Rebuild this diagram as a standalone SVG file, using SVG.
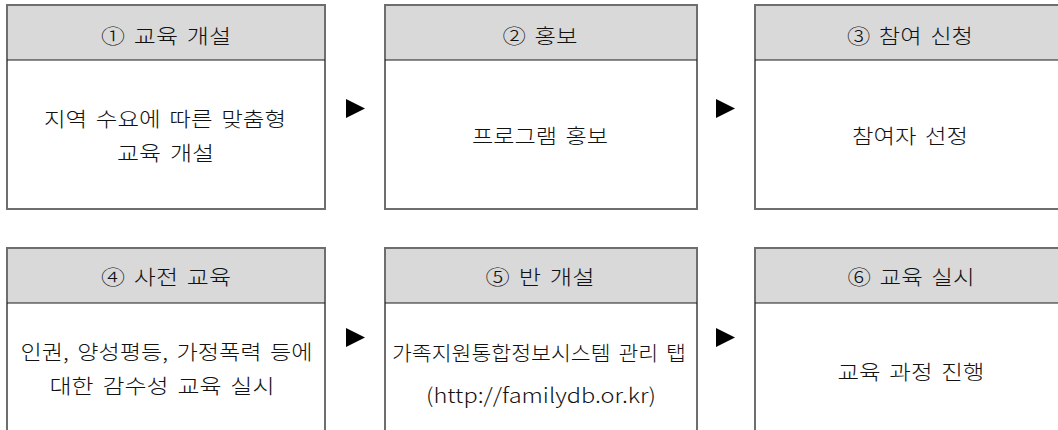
<svg xmlns="http://www.w3.org/2000/svg" width="1058" height="430" viewBox="0 0 1058 430">
  <defs>
    <style>
      .frame { fill: #ffffff; stroke: #6e6e6e; stroke-width: 2; }
      .head { fill: #d9d9d9; stroke: none; }
      .sep { stroke: #1a1a1a; stroke-width: 1.2; }
      .t { font-family: "Noto Sans CJK KR", "Noto Sans", sans-serif; font-size: 20.5px; font-weight: 300; fill: #111; text-anchor: middle; dominant-baseline: central; word-spacing: 3px; }
      .arrow { fill: #000; }
    </style>
  </defs>
  <rect x="0" y="0" width="1058" height="430" fill="#ffffff"/>

  <g id="node1">
    <rect class="frame" x="7" y="5" width="318" height="204"/>
    <rect class="head" x="8" y="6" width="316" height="54"/>
    <line class="sep" x1="7" y1="60" x2="325" y2="60"/>
    <text class="t" x="166" y="35" textLength="130" lengthAdjust="spacingAndGlyphs">① 교육 개설</text>
    <text class="t" x="165" y="117.5" textLength="242" lengthAdjust="spacingAndGlyphs">지역 수요에 따른 맞춤형</text>
    <text class="t" x="165.5" y="152" textLength="97" lengthAdjust="spacingAndGlyphs">교육 개설</text>
  </g>

  <g id="node2">
    <rect class="frame" x="385" y="5" width="312" height="204"/>
    <rect class="head" x="386" y="6" width="310" height="54"/>
    <line class="sep" x1="385" y1="60" x2="697" y2="60"/>
    <text class="t" x="540" y="35" textLength="75" lengthAdjust="spacingAndGlyphs">② 홍보</text>
    <text class="t" x="540" y="135" textLength="136" lengthAdjust="spacingAndGlyphs">프로그램 홍보</text>
  </g>

  <g id="node3">
    <rect class="frame" x="755" y="5" width="311" height="204"/>
    <rect class="head" x="756" y="6" width="309" height="54"/>
    <line class="sep" x1="755" y1="60" x2="1066" y2="60"/>
    <text class="t" x="910" y="35" textLength="126" lengthAdjust="spacingAndGlyphs">③ 참여 신청</text>
    <text class="t" x="910" y="135" textLength="116" lengthAdjust="spacingAndGlyphs">참여자 선정</text>
  </g>

  <g id="node4">
    <rect class="frame" x="7" y="248" width="318" height="204"/>
    <rect class="head" x="8" y="249" width="316" height="54"/>
    <line class="sep" x1="7" y1="303" x2="325" y2="303"/>
    <text class="t" x="166" y="275.5" textLength="130" lengthAdjust="spacingAndGlyphs">④ 사전 교육</text>
    <text class="t" x="166.5" y="351" textLength="292" lengthAdjust="spacingAndGlyphs">인권, 양성평등, 가정폭력 등에</text>
    <text class="t" x="162" y="385" textLength="225" lengthAdjust="spacingAndGlyphs">대한 감수성 교육 실시</text>
  </g>

  <g id="node5">
    <rect class="frame" x="385" y="248" width="312" height="204"/>
    <rect class="head" x="386" y="249" width="310" height="54"/>
    <line class="sep" x1="385" y1="303" x2="697" y2="303"/>
    <text class="t" x="540" y="275.5" textLength="109" lengthAdjust="spacingAndGlyphs">⑤ 반 개설</text>
    <text class="t" x="539" y="352" textLength="294" lengthAdjust="spacingAndGlyphs">가족지원통합정보시스템 관리 탭</text>
    <text class="t" x="541" y="394" textLength="230" lengthAdjust="spacingAndGlyphs">(http://familydb.or.kr)</text>
  </g>

  <g id="node6">
    <rect class="frame" x="755" y="248" width="311" height="204"/>
    <rect class="head" x="756" y="249" width="309" height="54"/>
    <line class="sep" x1="755" y1="303" x2="1066" y2="303"/>
    <text class="t" x="911" y="275.5" textLength="127" lengthAdjust="spacingAndGlyphs">⑥ 교육 실시</text>
    <text class="t" x="911" y="371" textLength="147" lengthAdjust="spacingAndGlyphs">교육 과정 진행</text>
  </g>

  <g id="connectors">
    <polygon class="arrow" points="346,99 365,108.5 346,118"/>
    <polygon class="arrow" points="716,99 735,108.5 716,118"/>
    <polygon class="arrow" points="346,328 365,337.5 346,347"/>
    <polygon class="arrow" points="716,328 735,337.5 716,347"/>
  </g>
</svg>
